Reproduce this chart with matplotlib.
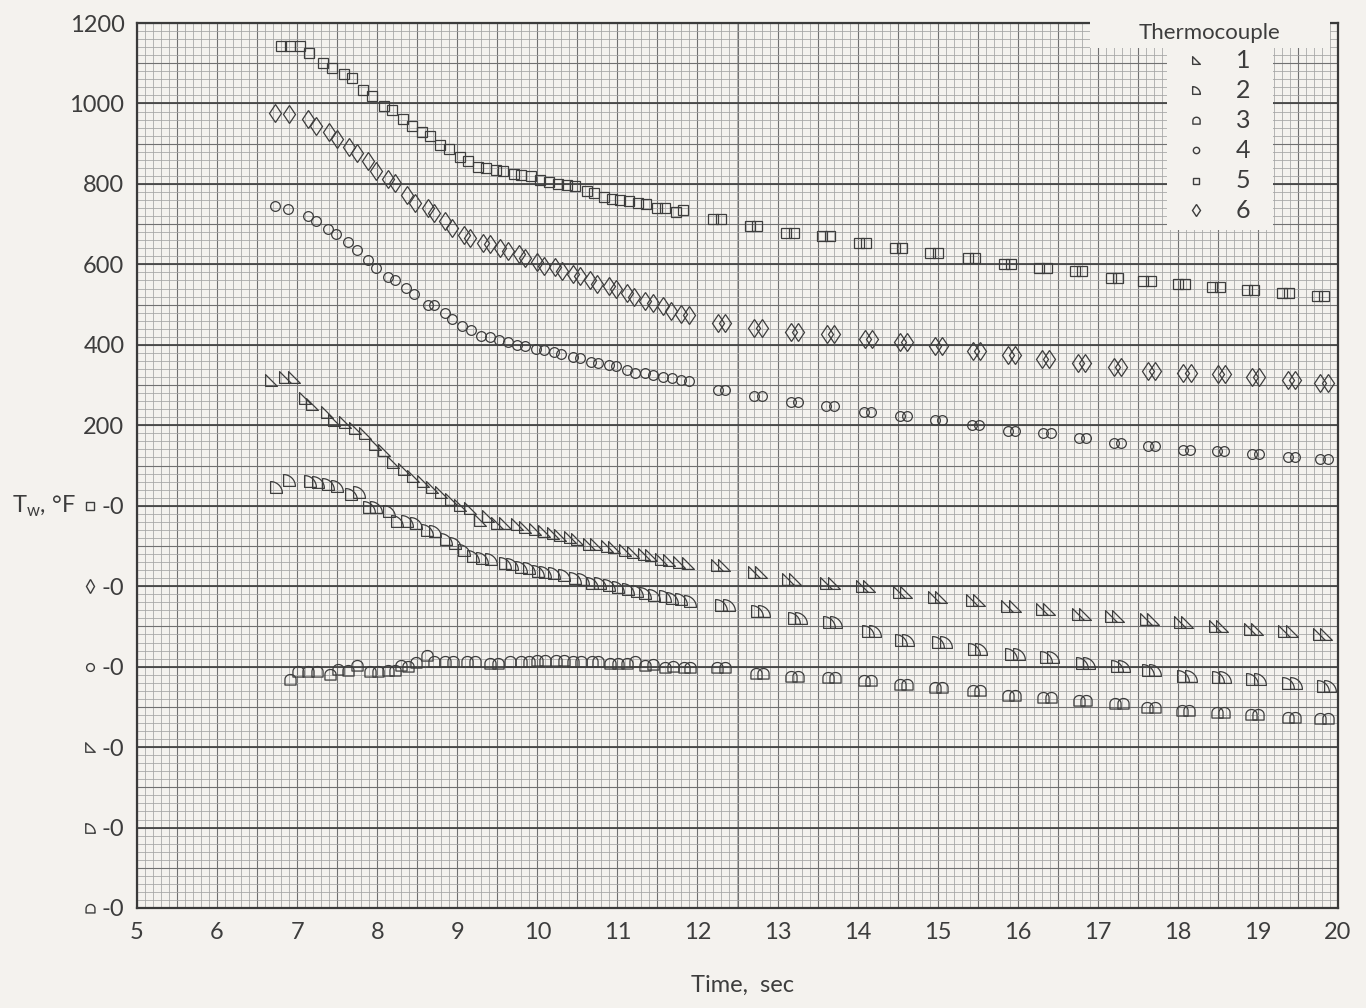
import numpy as np
import matplotlib
matplotlib.use("Agg")
import matplotlib.pyplot as plt
import matplotlib.path as mpath
import matplotlib.transforms as mtrans

# --- data (plotted ordinate, each thermocouple has its own zero) ---
tc1_t = [6.67, 6.85, 6.96, 7.10, 7.19, 7.37, 7.46, 7.60, 7.72, 7.85, 7.97, 8.09, 8.20, 8.33, 8.45,
         8.57, 8.69, 8.80, 8.92, 9.04, 9.16, 9.28, 9.38, 9.50, 9.60, 9.74, 9.85, 9.97, 10.08, 10.20,
         10.28, 10.41, 10.50, 10.64, 10.73, 10.87, 10.96, 11.10, 11.20, 11.33, 11.42, 11.55, 11.64,
         11.77, 11.88,
         12.24, 12.33, 12.70, 12.79, 13.13, 13.22, 13.61, 13.70, 14.05, 14.14, 14.52, 14.61, 14.95,
         15.04, 15.43, 15.52, 15.87, 15.96, 16.30, 16.39, 16.75, 16.84, 17.16, 17.25, 17.60, 17.69,
         18.03, 18.12, 18.46, 18.55, 18.90, 18.99, 19.33, 19.42, 19.76, 19.85]
tc1_v = [312, 321, 321, 267, 254, 233, 214, 208, 192, 181, 154, 138, 108, 92, 75,
         62, 46, 33, 17, 2, -6, -36, -25, -42, -44, -46, -54, -58, -64, -69,
         -73, -77, -83, -94, -96, -100, -102, -111, -114, -119, -123, -133, -135,
         -139, -142,
         -148, -148, -165, -165, -181, -181, -192, -192, -200, -200, -214, -214, -226,
         -226, -234, -234, -250, -250, -256, -256, -268, -268, -275, -275, -282, -282,
         -289, -289, -300, -300, -306, -306, -311, -311, -320, -320]

tc2_t = [6.74, 6.90, 7.16, 7.26, 7.39, 7.50, 7.67, 7.77, 7.90, 7.99, 8.15, 8.25, 8.37, 8.49, 8.62,
         8.72, 8.86, 8.97, 9.08, 9.20, 9.31, 9.42, 9.59, 9.68, 9.80, 9.90, 10.01, 10.10, 10.21,
         10.33, 10.47, 10.57, 10.68, 10.78, 10.90, 11.01, 11.13, 11.24, 11.35, 11.46, 11.60, 11.68,
         11.80, 11.91,
         12.30, 12.39, 12.74, 12.83, 13.20, 13.29, 13.64, 13.73, 14.13, 14.22, 14.54, 14.63, 15.01,
         15.10, 15.45, 15.54, 15.92, 16.01, 16.35, 16.44, 16.80, 16.89, 17.24, 17.33, 17.63, 17.72,
         18.07, 18.16, 18.50, 18.59, 18.93, 19.02, 19.38, 19.47, 19.81, 19.90]
tc2_v = [46, 64, 62, 58, 53, 48, 28, 35, -2, -3, -12, -37, -37, -42, -61,
         -62, -83, -92, -110, -125, -129, -133, -142, -146, -152, -156, -162, -164, -167,
         -171, -179, -183, -192, -192, -196, -202, -208, -211, -218, -222, -225, -229,
         -231, -236,
         -247, -247, -262, -262, -280, -280, -289, -289, -311, -311, -333, -333, -339,
         -339, -355, -355, -368, -368, -376, -376, -392, -392, -399, -399, -409, -409,
         -424, -424, -426, -426, -430, -430, -441, -441, -448, -448]

tc3_t = [6.91, 7.01, 7.14, 7.25, 7.41, 7.51, 7.64, 7.75, 7.91, 8.01, 8.13, 8.22, 8.30, 8.39, 8.48,
         8.62, 8.71, 8.85, 8.95, 9.12, 9.22, 9.41, 9.51, 9.66, 9.80, 9.89, 10.00, 10.10, 10.23,
         10.33, 10.45, 10.55, 10.68, 10.76, 10.91, 11.01, 11.12, 11.22, 11.35, 11.45, 11.60, 11.69,
         11.83, 11.91,
         12.25, 12.34, 12.73, 12.82, 13.17, 13.26, 13.63, 13.72, 14.08, 14.17, 14.53, 14.62, 14.97,
         15.06, 15.44, 15.53, 15.88, 15.97, 16.32, 16.41, 16.76, 16.85, 17.22, 17.31, 17.62, 17.71,
         18.05, 18.14, 18.49, 18.58, 18.91, 19.00, 19.37, 19.46, 19.78, 19.87]
tc3_v = [-431, -411, -412, -412, -418, -406, -408, -397, -411, -411, -408, -408, -396, -398, -389,
         -371, -386, -387, -386, -386, -387, -392, -392, -387, -386, -386, -383, -383, -383,
         -383, -386, -386, -386, -386, -392, -392, -390, -386, -396, -394, -400, -398,
         -402, -402,
         -400, -400, -415, -415, -424, -424, -427, -427, -434, -434, -444, -444, -450,
         -450, -459, -459, -471, -471, -475, -475, -483, -483, -491, -491, -500, -500,
         -507, -507, -513, -513, -517, -517, -524, -524, -527, -527]

tc4_t = [6.72, 6.89, 7.13, 7.24, 7.39, 7.49, 7.64, 7.75, 7.88, 7.98, 8.14, 8.22, 8.36, 8.46, 8.63,
         8.71, 8.85, 8.94, 9.06, 9.17, 9.30, 9.41, 9.52, 9.63, 9.74, 9.84, 9.98, 10.08, 10.21,
         10.30, 10.44, 10.53, 10.67, 10.76, 10.89, 10.98, 11.12, 11.22, 11.35, 11.44, 11.57, 11.68,
         11.80, 11.89,
         12.26, 12.35, 12.71, 12.80, 13.17, 13.26, 13.61, 13.70, 14.08, 14.17, 14.53, 14.62, 14.97,
         15.06, 15.43, 15.52, 15.88, 15.97, 16.32, 16.41, 16.76, 16.85, 17.20, 17.29, 17.63, 17.72,
         18.06, 18.15, 18.49, 18.58, 18.92, 19.01, 19.37, 19.46, 19.78, 19.87]
tc4_v = [746, 737, 721, 708, 689, 675, 656, 635, 610, 590, 568, 560, 542, 526, 500,
         498, 478, 464, 446, 438, 422, 420, 412, 408, 400, 396, 390, 386, 382,
         376, 370, 366, 358, 356, 350, 348, 337, 331, 329, 325, 321, 317,
         313, 309,
         287, 287, 272, 272, 258, 258, 247, 247, 233, 233, 222, 222, 212,
         212, 200, 200, 187, 187, 180, 180, 168, 168, 155, 155, 149, 149,
         139, 139, 135, 135, 129, 129, 122, 122, 116, 116]

tc5_t = [6.80, 6.91, 7.03, 7.15, 7.32, 7.43, 7.58, 7.68, 7.82, 7.93, 8.09, 8.19, 8.32, 8.43, 8.56,
         8.66, 8.78, 8.90, 9.04, 9.14, 9.26, 9.36, 9.48, 9.57, 9.71, 9.80, 9.92, 10.03, 10.15,
         10.26, 10.37, 10.47, 10.62, 10.71, 10.83, 10.93, 11.03, 11.15, 11.26, 11.36, 11.50, 11.60,
         11.73, 11.82,
         12.20, 12.29, 12.65, 12.74, 13.11, 13.20, 13.56, 13.65, 14.02, 14.11, 14.47, 14.56, 14.91,
         15.00, 15.38, 15.47, 15.83, 15.92, 16.27, 16.36, 16.71, 16.80, 17.16, 17.25, 17.57, 17.66,
         18.00, 18.09, 18.43, 18.52, 18.86, 18.95, 19.30, 19.39, 19.74, 19.83]
tc5_v = [1143, 1143, 1143, 1126, 1100, 1088, 1072, 1063, 1034, 1019, 994, 983, 961, 943, 928,
         920, 897, 886, 868, 858, 842, 840, 834, 832, 825, 821, 819, 810, 804,
         800, 797, 796, 783, 778, 768, 763, 761, 758, 753, 750, 741, 739,
         730, 734,
         714, 714, 695, 695, 677, 677, 670, 670, 652, 652, 641, 641, 628,
         628, 616, 616, 602, 602, 591, 591, 583, 583, 567, 567, 559, 559,
         551, 551, 543, 543, 536, 536, 528, 528, 522, 522]

tc6_t = [6.72, 6.90, 7.14, 7.24, 7.40, 7.50, 7.65, 7.75, 7.89, 7.99, 8.13, 8.22, 8.37, 8.47, 8.63,
         8.71, 8.85, 8.93, 9.08, 9.16, 9.32, 9.41, 9.53, 9.63, 9.77, 9.85, 9.99, 10.08, 10.22,
         10.31, 10.45, 10.53, 10.66, 10.75, 10.89, 10.98, 11.12, 11.21, 11.35, 11.44, 11.57, 11.67,
         11.80, 11.89,
         12.26, 12.35, 12.71, 12.80, 13.17, 13.26, 13.62, 13.71, 14.09, 14.18, 14.53, 14.62, 14.97,
         15.06, 15.44, 15.53, 15.88, 15.97, 16.30, 16.39, 16.75, 16.84, 17.20, 17.29, 17.63, 17.72,
         18.07, 18.16, 18.50, 18.59, 18.92, 19.01, 19.37, 19.46, 19.78, 19.87]
tc6_v = [977, 975, 962, 944, 929, 911, 891, 877, 858, 833, 812, 802, 773, 752, 740,
         727, 708, 691, 673, 665, 654, 650, 641, 633, 625, 615, 606, 596, 594,
         584, 576, 570, 562, 552, 546, 540, 528, 518, 510, 504, 496, 484,
         476, 474,
         453, 453, 443, 443, 431, 431, 427, 427, 415, 415, 407, 407, 396,
         396, 384, 384, 374, 374, 364, 364, 354, 354, 346, 346, 336, 336,
         329, 329, 328, 328, 319, 319, 313, 313, 304, 304]

tc_names = ["1", "2", "3", "4", "5", "6"]
x_ticks = list(range(5, 21))
y_ticks = [-1000, -800, -600, -400, -200, 0, 200, 400, 600, 800, 1000, 1200]
y_labels = ["-0", "-0", "-0", "-0", "-0", "-0", "200", "400", "600", "800", "1000", "1200"]
# which thermocouple symbol stands in front of each "-0" label (bottom to top)
zero_marks = ["3", "2", "1", "4", "6", "5"]


# --- marker shapes ---
def closed(verts):
    codes = [mpath.Path.MOVETO] + [mpath.Path.LINETO] * (len(verts) - 2) + [mpath.Path.CLOSEPOLY]
    return mpath.Path(verts, codes)

tri_mark = closed([(-1, -1), (-1, 1), (1, -1), (-1, -1)])
a = np.linspace(np.pi / 2, 0, 16)
quarter_mark = closed([(-1, -1)] + [(-1 + 2 * np.cos(k), -1 + 2 * np.sin(k)) for k in a] + [(-1, -1)])
b = np.linspace(np.pi, 0, 16)
half_mark = closed([(-1, -1)] + [(np.cos(k), np.sin(k) * 0.9) for k in b] + [(1, -1), (-1, -1)])

marks = {"1": (tri_mark, 8.5), "2": (quarter_mark, 8.5), "3": (half_mark, 8),
         "4": ("o", 7), "5": ("s", 6.8), "6": ("d", 9.5)}
series = {"1": (tc1_t, tc1_v), "2": (tc2_t, tc2_v), "3": (tc3_t, tc3_v),
          "4": (tc4_t, tc4_v), "5": (tc5_t, tc5_v), "6": (tc6_t, tc6_v)}

ink = "#3d3d3d"
paper = "#f4f2ee"
plt.rcParams["font.family"] = ["Lato", "DejaVu Sans"]

fig = plt.figure(figsize=(13.66, 10.08), dpi=100, facecolor=paper)
ax = fig.add_axes([137 / 1366, 1 - 908 / 1008, 1201 / 1366, 885 / 1008])
ax.set_facecolor(paper)
ax.set_xlim(5, 20)
ax.set_ylim(-1000, 1200)

# graph paper
ax.vlines(np.arange(5, 20.01, 0.1), -1000, 1200, color="#a3a3a3", lw=0.55, zorder=1)
ax.vlines(np.arange(5, 20.01, 0.5), -1000, 1200, color="#707070", lw=0.8, zorder=1)
ax.hlines(np.arange(-1000, 1201, 20), 5, 20, color="#a3a3a3", lw=0.55, zorder=1)
ax.hlines(np.arange(-1000, 1201, 100), 5, 20, color="#707070", lw=0.8, zorder=1)
ax.hlines(np.arange(-1000, 1201, 200), 5, 20, color="#454545", lw=1.3, zorder=1)
for s in ax.spines.values():
    s.set_color("#3a3a3a")
    s.set_linewidth(1.6)

for name in tc_names:
    t, v = series[name]
    m, ms = marks[name]
    ax.plot(t, v, ls="none", marker=m, ms=ms, mfc="none", mec=ink, mew=0.9, zorder=3)

ax.set_xticks(x_ticks)
ax.set_xticklabels([str(x) for x in x_ticks])
ax.set_yticks(y_ticks)
ax.set_yticklabels(y_labels)
ax.tick_params(length=0, labelsize=17, colors=ink, pad=9)
ax.tick_params(axis="x", pad=10)

# symbols in front of the "-0" labels
trans = mtrans.blended_transform_factory(ax.transAxes, ax.transData)
for yv, name in zip(y_ticks[:6], zero_marks):
    m, ms = marks[name]
    ax.plot([-0.039], [yv], transform=trans, clip_on=False, ls="none", marker=m,
            ms=ms * 0.8, mfc="none", mec=ink, mew=1.0)

fig.text(44 / 1366, 1 - 506 / 1008, r"T$_\mathregular{w}$, °F", fontsize=17, color=ink,
         ha="center", va="center")
fig.text(743 / 1366, 1 - 985 / 1008, "Time,  sec", fontsize=17, color=ink, ha="center", va="center")

# legend drawn on the paper
ax.add_patch(plt.Rectangle((0.7935, 0.972), 0.2, 0.04, transform=ax.transAxes,
                           facecolor=paper, edgecolor="none", zorder=4, clip_on=False))
ax.add_patch(plt.Rectangle((0.858, 0.766), 0.088, 0.21, transform=ax.transAxes,
                           facecolor=paper, edgecolor="none", zorder=4))
ax.text(0.893, 0.989, "Thermocouple", transform=ax.transAxes, fontsize=16, color=ink,
        ha="center", va="center", zorder=5)
row_y = [60, 90, 120, 150, 181, 210]
for name, py in zip(tc_names, row_y):
    yy = (908 - py) / 885
    m, ms = marks[name]
    ax.plot([(1196 - 137) / 1201], [yy], transform=ax.transAxes, ls="none", marker=m,
            ms=ms * 0.65, mfc="none", mec=ink, mew=1.0, zorder=5)
    ax.text((1243 - 137) / 1201, yy, name, transform=ax.transAxes, fontsize=18, color=ink,
            ha="center", va="center", zorder=5)

fig.savefig("out.png", dpi=100, facecolor=paper)
